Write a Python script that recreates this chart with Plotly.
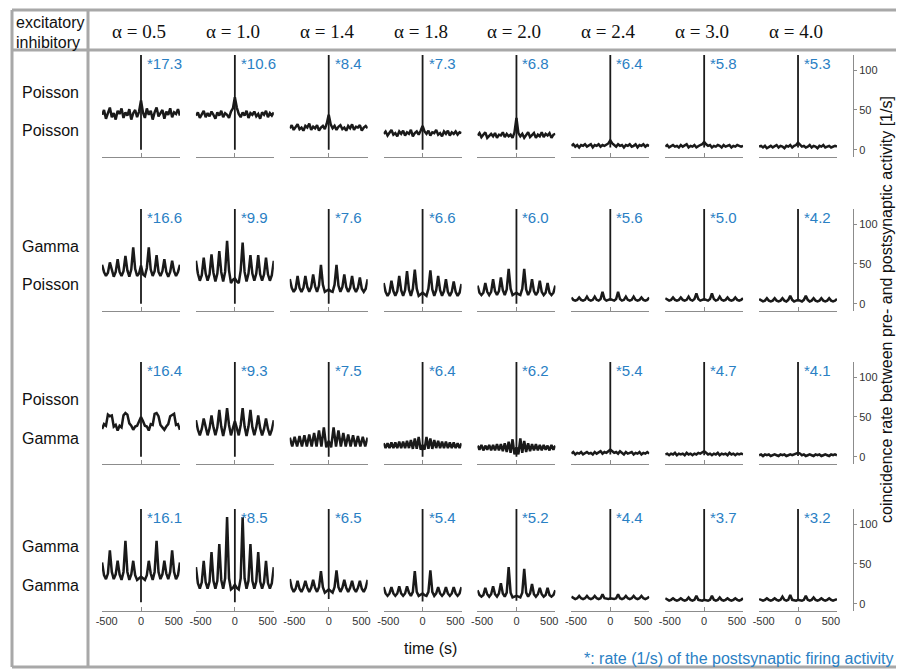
import numpy as np
import plotly.graph_objects as go

# column headers and row labels (excitatory / inhibitory input)
alphas = ["0.5", "1.0", "1.4", "1.8", "2.0", "2.4", "3.0", "4.0"]
row_labels = [("Poisson", "Poisson"), ("Gamma", "Poisson"),
              ("Poisson", "Gamma"), ("Gamma", "Gamma")]

# postsynaptic rates (1/s) printed next to each spike
rates_pp = [17.3, 10.6, 8.4, 7.3, 6.8, 6.4, 5.8, 5.3]
rates_gp = [16.6, 9.9, 7.6, 6.6, 6.0, 5.6, 5.0, 4.2]
rates_pg = [16.4, 9.3, 7.5, 6.4, 6.2, 5.4, 4.7, 4.1]
rates_gg = [16.1, 8.5, 6.5, 5.4, 5.2, 4.4, 3.7, 3.2]

# central bin: lowest value of the dip and (clipped) top of the spike
spike_top = 200
dip_pp = [0, 0, 0, 0, 0, 3, 3, 3]
dip_gp = [0, 0, 0, 0, 0, 4, 4, 3]
dip_pg = [0, 0, 0, 0, 0, 3, 2, 1]
dip_gg = [2, 2, 6, 3, 4, 5, 4, 4]

# coincidence rate [1/s], samples evenly spread over -500..500 ms
row_pp = [
    [44, 50, 39, 47, 53, 41, 46, 38, 49, 45, 52, 40, 47, 43, 51, 38, 46, 50, 41, 48, 62,
     47, 40, 52, 44, 49, 38, 47, 53, 42, 46, 50, 39, 48, 44, 52, 41, 47, 45, 51, 43],
    [43, 47, 40, 45, 49, 41, 46, 42, 48, 44, 39, 47, 43, 49, 41, 46, 44, 40, 48, 52, 66,
     53, 45, 41, 47, 43, 49, 40, 46, 44, 48, 42, 45, 39, 47, 44, 49, 41, 46, 43, 47],
    [27, 31, 25, 29, 32, 26, 28, 24, 30, 28, 33, 25, 29, 27, 31, 24, 28, 30, 26, 33, 44,
     32, 27, 30, 25, 29, 31, 26, 28, 24, 30, 27, 32, 25, 29, 28, 31, 24, 28, 30, 27],
    [20, 23, 18, 22, 25, 19, 21, 17, 23, 20, 24, 18, 22, 20, 25, 17, 21, 23, 19, 24, 30,
     23, 20, 24, 18, 22, 21, 25, 19, 21, 17, 23, 20, 24, 18, 22, 20, 23, 19, 22, 21],
    [18, 21, 16, 19, 22, 15, 18, 20, 17, 21, 15, 19, 18, 22, 16, 20, 17, 19, 15, 22, 40,
     21, 17, 20, 15, 19, 22, 16, 18, 21, 15, 19, 17, 22, 16, 20, 18, 21, 15, 19, 20],
    [5, 7, 4, 6, 3, 6, 5, 7, 4, 5, 7, 3, 6, 5, 7, 4, 6, 5, 7, 8, 12,
     8, 6, 4, 7, 5, 6, 3, 6, 5, 7, 4, 5, 7, 3, 6, 5, 7, 4, 6, 5],
    [4, 6, 3, 5, 6, 4, 5, 3, 6, 4, 5, 7, 3, 5, 4, 6, 3, 5, 6, 7, 10,
     7, 5, 6, 3, 5, 4, 6, 5, 3, 6, 4, 5, 6, 3, 5, 4, 6, 5, 4, 5],
    [4, 5, 3, 5, 2, 4, 5, 3, 4, 6, 3, 5, 4, 2, 5, 4, 6, 3, 5, 6, 9,
     6, 4, 5, 3, 4, 6, 3, 5, 4, 2, 5, 4, 6, 3, 4, 5, 3, 4, 5, 4],
]
row_gp = [
    [49, 40, 35, 39, 52, 41, 34, 40, 56, 40, 35, 41, 60, 42, 34, 43, 71, 44, 35, 38, 48,
     37, 35, 45, 71, 43, 35, 41, 61, 40, 35, 41, 56, 40, 34, 40, 54, 41, 35, 40, 49],
    [54, 38, 29, 36, 58, 38, 29, 37, 62, 39, 28, 38, 66, 40, 28, 40, 79, 42, 26, 30, 32,
     28, 26, 42, 77, 40, 28, 38, 61, 38, 29, 38, 61, 37, 29, 37, 58, 37, 29, 36, 54],
    [31, 20, 15, 19, 35, 20, 15, 20, 35, 21, 15, 21, 37, 22, 15, 23, 49, 24, 15, 17, 18,
     16, 15, 24, 49, 23, 15, 21, 37, 21, 15, 20, 35, 20, 15, 20, 33, 19, 15, 19, 31],
    [26, 15, 10, 14, 29, 16, 10, 16, 35, 17, 10, 17, 41, 18, 10, 19, 43, 19, 10, 12, 14,
     12, 10, 19, 42, 18, 10, 17, 35, 17, 10, 16, 31, 15, 10, 15, 28, 15, 10, 14, 25],
    [23, 14, 11, 14, 26, 15, 11, 15, 31, 16, 11, 16, 33, 17, 11, 18, 44, 19, 11, 12, 14,
     12, 11, 19, 44, 18, 11, 16, 31, 16, 11, 15, 29, 15, 11, 14, 26, 14, 11, 14, 23],
    [8, 5, 4, 5, 8, 5, 4, 5, 9, 5, 4, 5, 9, 5, 4, 6, 15, 6, 4, 5, 6,
     5, 4, 6, 15, 6, 4, 5, 9, 5, 4, 5, 9, 5, 4, 5, 8, 5, 4, 5, 8],
    [7, 5, 4, 5, 8, 5, 4, 5, 8, 5, 4, 5, 9, 5, 4, 6, 13, 6, 4, 5, 6,
     5, 4, 6, 13, 6, 4, 5, 9, 5, 4, 5, 8, 5, 4, 5, 8, 5, 4, 5, 7],
    [6, 4, 3, 4, 7, 4, 3, 4, 7, 4, 3, 4, 7, 4, 3, 5, 10, 5, 3, 4, 5,
     4, 3, 5, 10, 5, 3, 4, 7, 4, 3, 4, 7, 4, 3, 4, 7, 4, 3, 4, 6],
]
row_pg = [
    [35, 41, 39, 53, 51, 52, 38, 40, 33, 39, 37, 52, 55, 53, 42, 39, 34, 38, 39, 45, 50,
     45, 39, 38, 33, 41, 40, 54, 55, 51, 40, 37, 34, 38, 41, 51, 53, 54, 40, 41, 34],
    [46, 34, 27, 35, 48, 35, 27, 36, 52, 37, 27, 37, 59, 38, 26, 38, 61, 40, 27, 36, 45,
     36, 27, 40, 61, 38, 26, 38, 59, 37, 27, 37, 52, 36, 27, 35, 48, 35, 27, 34, 46],
    [24, 13, 25, 13, 26, 13, 27, 13, 28, 13, 30, 13, 33, 13, 37, 12, 20,
     12, 37, 13, 33, 13, 30, 13, 28, 13, 27, 13, 26, 13, 25, 13, 24],
    [17, 11, 17, 11, 18, 11, 18, 11, 19, 11, 19, 11, 20, 11, 21, 10, 23, 10, 25, 9, 15,
     9, 25, 10, 23, 10, 21, 11, 20, 11, 19, 11, 19, 11, 18, 11, 18, 11, 17, 11, 17],
    [14, 9, 15, 8, 14, 9, 15, 8, 15, 8, 16, 8, 16, 7, 17, 6, 19, 5, 22, 3, 12,
     3, 23, 5, 20, 6, 17, 7, 16, 8, 16, 8, 15, 8, 15, 9, 14, 8, 15, 9, 14],
    [4, 6, 3, 5, 4, 6, 3, 5, 6, 4, 5, 3, 6, 4, 5, 7, 4, 6, 5, 7, 9,
     7, 5, 6, 4, 7, 5, 3, 6, 4, 5, 6, 3, 5, 4, 6, 3, 5, 4, 6, 4],
    [3, 4, 2, 4, 3, 5, 2, 4, 3, 4, 2, 5, 3, 4, 2, 4, 3, 5, 4, 5, 7,
     5, 3, 4, 2, 4, 3, 5, 2, 4, 3, 4, 2, 5, 3, 4, 2, 4, 3, 4, 3],
    [2, 3, 1, 3, 2, 3, 1, 2, 3, 2, 1, 3, 2, 3, 1, 2, 3, 2, 3, 4, 5,
     4, 2, 3, 1, 2, 3, 2, 1, 3, 2, 3, 1, 2, 3, 2, 1, 3, 2, 3, 2],
]
row_gg = [
    [52, 36, 31, 38, 67, 40, 31, 37, 54, 37, 30, 40, 79, 40, 30, 37, 54, 36, 30, 32, 34,
     32, 30, 36, 54, 38, 30, 40, 79, 40, 31, 37, 54, 38, 31, 40, 67, 40, 31, 36, 52],
    [46, 26, 19, 27, 54, 27, 19, 28, 65, 29, 19, 29, 75, 30, 19, 32, 109, 32, 18, 20, 24,
     20, 18, 32, 109, 32, 19, 29, 75, 29, 19, 28, 65, 28, 19, 27, 54, 26, 19, 26, 46],
    [31, 20, 15, 19, 29, 19, 15, 20, 29, 20, 15, 20, 30, 20, 15, 21, 41, 21, 14, 16, 18,
     16, 14, 21, 42, 21, 15, 20, 30, 20, 15, 20, 29, 19, 15, 20, 29, 19, 15, 20, 30],
    [21, 13, 10, 13, 21, 13, 10, 13, 22, 13, 10, 13, 22, 14, 10, 15, 41, 15, 10, 11, 13,
     11, 10, 15, 42, 15, 10, 13, 21, 13, 10, 13, 21, 13, 10, 13, 21, 13, 10, 13, 21],
    [17, 11, 9, 11, 20, 12, 9, 12, 22, 12, 9, 13, 26, 13, 9, 14, 46, 14, 8, 9, 10,
     9, 8, 14, 44, 14, 9, 13, 25, 12, 9, 12, 20, 12, 9, 11, 20, 11, 9, 11, 17],
    [9, 7, 6, 7, 10, 7, 6, 7, 10, 7, 6, 7, 10, 7, 6, 7, 12, 7, 6, 6, 7,
     6, 6, 7, 12, 7, 6, 7, 10, 7, 6, 7, 10, 7, 6, 7, 10, 7, 6, 7, 9],
    [7, 5, 4, 5, 7, 5, 4, 5, 7, 5, 4, 5, 8, 5, 4, 5, 10, 5, 4, 4, 5,
     4, 4, 5, 10, 5, 4, 5, 8, 5, 4, 5, 7, 5, 4, 5, 7, 5, 4, 5, 7],
    [6, 5, 4, 5, 7, 5, 4, 5, 7, 5, 4, 5, 9, 5, 4, 5, 11, 5, 4, 4, 5,
     4, 4, 5, 10, 5, 4, 5, 8, 5, 4, 5, 7, 5, 4, 5, 7, 5, 4, 5, 6],
]

rows = [row_pp, row_gp, row_pg, row_gg]
rates = [rates_pp, rates_gp, rates_pg, rates_gg]
dips = [dip_pp, dip_gp, dip_pg, dip_gg]

# ---- layout, in screen pixels of the target picture ----
W, H = 904, 669
OFF = 8  # the page body margin moves the figure by 8px
col_left = [102 + 93.86 * c for c in range(8)]
panel_w = 78
row_top = [55, 209, 362, 509]
row_bot = [157, 311, 464, 611]
right_axis_x = 853

GRAY = "#8c8c8c"
FRAME = "#a8a8a8"
BLUE = "#2a80c4"
INK = "#1a1a1a"
SANS = "Liberation Sans, Arial, sans-serif"
SERIF = "Liberation Serif, Times New Roman, serif"
NB = "\u00a0"


def px_x(x):
    return (x - OFF) / W


def px_y(y):
    return 1 - (y - OFF) / H


fig = go.Figure()
layout = {}
annotations = []

for r in range(4):
    for c in range(8):
        n = r * 8 + c + 1
        sfx = "" if n == 1 else str(n)
        y = rows[r][c]
        t = np.linspace(-500, 500, len(y))

        fig.add_trace(go.Scatter(
            x=t, y=y, mode="lines", xaxis="x" + sfx, yaxis="y" + sfx,
            line=dict(color=INK, width=2.5), hoverinfo="skip", showlegend=False))
        fig.add_trace(go.Scatter(
            x=[0, 0], y=[dips[r][c], spike_top], mode="lines",
            xaxis="x" + sfx, yaxis="y" + sfx,
            line=dict(color=INK, width=1.8), hoverinfo="skip", showlegend=False))

        layout["xaxis" + sfx] = dict(
            domain=[px_x(col_left[c]), px_x(col_left[c] + panel_w)],
            range=[-501, 501], anchor="y" + sfx,
            tickvals=[-500, 0, 500],
            ticktext=[NB * 3 + "-500", "0", "500" + NB * 4],
            ticks="inside", ticklen=4, tickcolor=GRAY, tickwidth=1,
            showline=True, linecolor=GRAY, linewidth=1,
            showgrid=False, zeroline=False,
            showticklabels=(r == 3),
            tickfont=dict(size=11, color="#333333", family=SANS),
        )
        ydom = [px_y(row_bot[r]), px_y(row_top[r])]
        if c < 7:
            layout["yaxis" + sfx] = dict(domain=ydom, range=[-9, 119],
                                         anchor="x" + sfx, visible=False)
        else:
            layout["yaxis" + sfx] = dict(
                domain=ydom, range=[-9, 119], anchor="free",
                position=px_x(right_axis_x), side="right",
                tickvals=[0, 50, 100], ticks="outside", ticklen=3,
                tickcolor=GRAY, showline=True, linecolor=GRAY, linewidth=1,
                showgrid=False, zeroline=False,
                tickfont=dict(size=11, color="#333333", family=SANS),
            )

        annotations.append(dict(
            x=0, y=108, xref="x" + sfx, yref="y" + sfx,
            text="*%.1f" % rates[r][c], showarrow=False,
            xanchor="left", yanchor="middle", xshift=4,
            font=dict(size=15, color=BLUE, family=SANS)))

    # row labels: excitatory above, inhibitory below
    for k, lab in enumerate(row_labels[r]):
        annotations.append(dict(
            x=px_x(50), y=px_y(row_top[r] + 37 + 39 * k), xref="paper", yref="paper",
            text=lab, showarrow=False, xanchor="center", yanchor="middle",
            font=dict(size=16, color="#111111", family=SANS)))

# header
for c, a in enumerate(alphas):
    annotations.append(dict(
        x=px_x(col_left[c] + panel_w / 2 - 2), y=px_y(32), xref="paper", yref="paper",
        text="\u03b1 = " + a, showarrow=False, xanchor="center", yanchor="middle",
        font=dict(size=19, color="#111111", family=SERIF)))
for k, lab in enumerate(["excitatory", "inhibitory"]):
    annotations.append(dict(
        x=px_x(14), y=px_y(23 + 19 * k), xref="paper", yref="paper",
        text=lab, showarrow=False, xanchor="left", yanchor="middle",
        font=dict(size=16, color="#111111", family=SANS)))

annotations.append(dict(
    x=px_x(430), y=px_y(648), xref="paper", yref="paper", text="time (s)",
    showarrow=False, xanchor="center", yanchor="middle",
    font=dict(size=16, color="#111111", family=SANS)))
annotations.append(dict(
    x=px_x(895), y=px_y(658), xref="paper", yref="paper",
    text="*: rate (1/s) of the postsynaptic firing activity",
    showarrow=False, xanchor="right", yanchor="middle",
    font=dict(size=16, color=BLUE, family=SANS)))
annotations.append(dict(
    x=px_x(886), y=px_y(310), xref="paper", yref="paper",
    text="coincidence rate between pre- and postsynaptic activity [1/s]",
    showarrow=False, textangle=-90, xanchor="center", yanchor="middle",
    font=dict(size=16, color="#111111", family=SANS)))

# table frame
frame = [
    (12, 10, W, 10), (12, 50, W, 50), (12, 667, W, 667),
    (12, 10, 12, 667), (88, 10, 88, 667),
]
shapes = [dict(type="line", xref="paper", yref="paper",
               x0=px_x(a), y0=px_y(b), x1=px_x(cc), y1=px_y(d),
               line=dict(color=FRAME, width=3)) for a, b, cc, d in frame]

fig.update_layout(
    width=W, height=H, margin=dict(l=0, r=0, t=0, b=0, autoexpand=False),
    paper_bgcolor="white", plot_bgcolor="white",
    font=dict(family=SANS), showlegend=False,
    annotations=annotations, shapes=shapes, **layout)

fig.write_html("out.html")
